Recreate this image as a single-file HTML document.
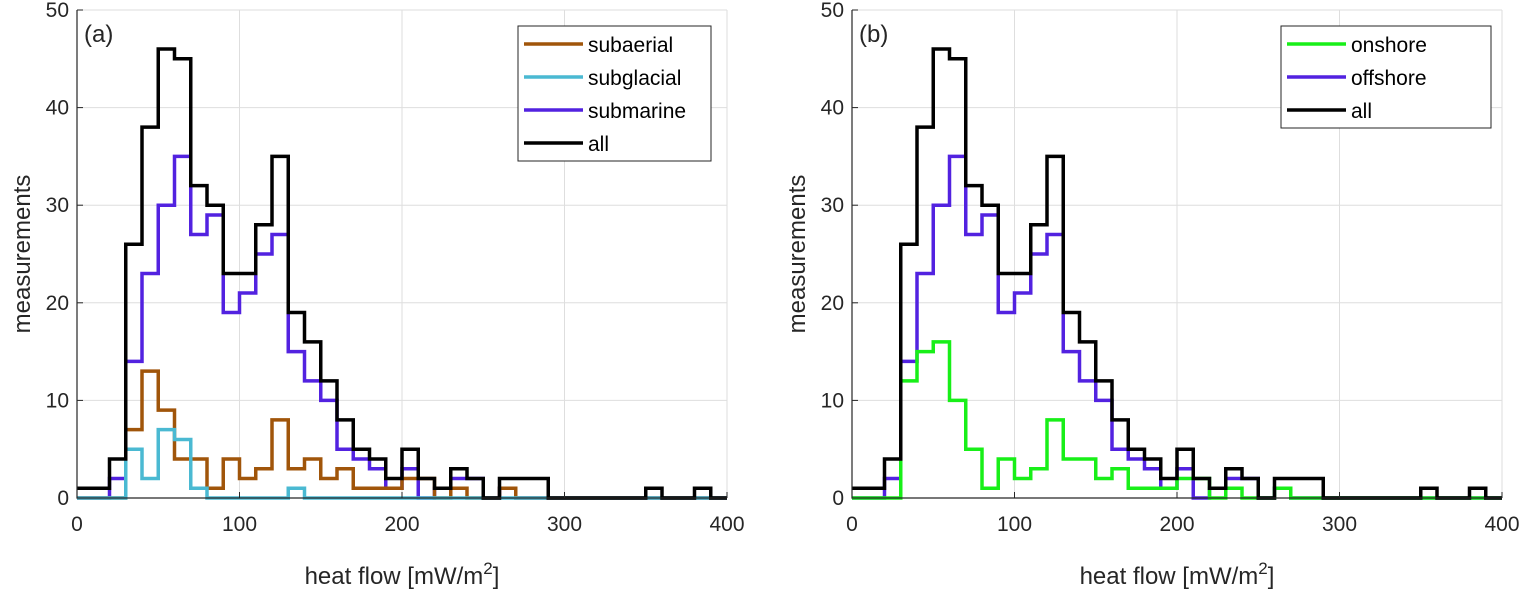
<!DOCTYPE html>
<html><head><meta charset="utf-8"><style>
html,body{margin:0;padding:0;background:#fff;}
svg{display:block;font-family:"Liberation Sans",sans-serif;}
</style></head><body>
<svg id="chart" width="1530" height="593" viewBox="0 0 1530 593" xmlns="http://www.w3.org/2000/svg"></svg>
<script>
const binEdges = [0,10,20,30,40,50,60,70,80,90,100,110,120,130,140,150,160,170,180,190,200,210,220,230,240,250,260,270,280,290,300,310,320,330,340,350,360,370,380,390];
const allCounts =       [1,1,4,26,38,46,45,32,30,23,23,28,35,19,16,12,8,5,4,2,5,2,1,3,2,0,2,2,2,0,0,0,0,0,0,1,0,0,1,0];
const submarineCounts = [0,0,2,14,23,30,35,27,29,19,21,25,27,15,12,10,5,4,3,1,3,0,1,2,2,0,1,0,0,0,0,0,0,0,0,0,0,0,0,0];
const subaerialCounts = [0,0,0,7,13,9,4,4,1,4,2,3,8,3,4,2,3,1,1,1,2,2,0,1,0,0,1,0,0,0,0,0,0,0,0,0,0,0,0,0];
const subglacialCounts= [0,0,0,5,2,7,6,1,0,0,0,0,0,1,0,0,0,0,0,0,0,0,0,0,0,0,0,0,0,0,0,0,0,0,0,0,0,0,0,0];
const onshoreCounts =   [0,0,0,12,15,16,10,5,1,4,2,3,8,4,4,2,3,1,1,1,2,2,0,1,0,0,1,0,0,0,0,0,0,0,0,0,0,0,0,0];
const offshoreCounts = submarineCounts;
const xTicks = [0,100,200,300,400];
const yTicks = [0,10,20,30,40,50];
const binWidth = 10;

const NS="http://www.w3.org/2000/svg";
const svg=document.getElementById('chart');
function mk(tag,attrs,parent){const e=document.createElementNS(NS,tag);for(const k in attrs)e.setAttribute(k,attrs[k]);(parent||svg).appendChild(e);return e;}

function panel(x0,label,series,legend,lx,ly,lw,lh){
  const x1=x0+650, yTop=10, yBot=498;
  const sx=v=>x0+(v/400)*(x1-x0);
  const sy=v=>yBot-(v/50)*(yBot-yTop);
  const g=mk('g',{});
  
  
  xTicks.forEach(t=>{const l=mk('line',{x1:sx(t),x2:sx(t),y1:yTop,y2:yBot,stroke:'#dedede','stroke-width':1},g);
    });
  yTicks.forEach(t=>{const l=mk('line',{x1:x0,x2:x1,y1:sy(t),y2:sy(t),stroke:'#dedede','stroke-width':1},g);
    });
  series.forEach(s=>{
    let d='';
    s.vals.forEach((v,i)=>{const xa=sx(binEdges[i]),xb=sx(binEdges[i]+binWidth),y=sy(v);
      d+=(i===0?'M':'L')+xa+','+y+' L'+xb+','+y+' ';});
    const p=mk('path',{d:d,fill:'none',stroke:s.color,'stroke-width':3.5,'stroke-linejoin':'miter'},g);
    
    
  });
  const ax=mk('path',{d:`M${x0},${yTop} L${x0},${yBot} L${x1},${yBot}`,fill:'none',stroke:'#262626','stroke-width':1.2},g);
  
  xTicks.forEach(t=>{mk('line',{x1:sx(t),x2:sx(t),y1:yBot,y2:yBot-6,stroke:'#262626'},g);
    const tx=mk('text',{x:sx(t),y:531,'text-anchor':'middle','font-size':21,fill:'#262626'},g);tx.textContent=t;
    });
  yTicks.forEach(t=>{mk('line',{x1:x0,x2:x0+6,y1:sy(t),y2:sy(t),stroke:'#262626'},g);
    const tx=mk('text',{x:x0-8,y:sy(t)+7,'text-anchor':'end','font-size':21,fill:'#262626'},g);tx.textContent=t;
    });
  const xt=mk('text',{x:(x0+x1)/2,y:584,'text-anchor':'middle','font-size':24,fill:'#262626'},g);
  xt.innerHTML='heat flow [mW/m<tspan dy="-10" font-size="17">2</tspan><tspan dy="10">]</tspan>';
  
  const yt=mk('text',{x:0,y:0,'text-anchor':'middle','font-size':24,fill:'#262626',transform:`translate(${x0-47},254) rotate(-90)`},g);
  yt.textContent='measurements';
  
  const pl=mk('text',{x:x0+7,y:42,'font-size':24,fill:'#262626'},g);pl.textContent='('+label+')';
  
  const lg=mk('g',{},g);
  
  mk('rect',{x:lx,y:ly,width:lw,height:lh,fill:'#fff',stroke:'#262626','stroke-width':1},lg);
  legend.forEach((s,i)=>{const yy=ly+18+i*33;
    const e=mk('g',{},lg);
    
    mk('line',{x1:lx+6,x2:lx+65,y1:yy,y2:yy,stroke:s.color,'stroke-width':3.5},e);
    const t=mk('text',{x:lx+70,y:yy+8,'font-size':21,fill:'#000'},e);t.textContent=s.name;});
}
const C={subaerial:'#a0550a',subglacial:'#4ab9d2',submarine:'#5222e0',all:'#000',onshore:'#18ef18',offshore:'#5222e0'};
panel(77,'a',[
  {name:'submarine',vals:submarineCounts,color:C.submarine},
  {name:'subaerial',vals:subaerialCounts,color:C.subaerial},
  {name:'subglacial',vals:subglacialCounts,color:C.subglacial},
  {name:'all',vals:allCounts,color:C.all}],
  [{name:'subaerial',color:C.subaerial},{name:'subglacial',color:C.subglacial},{name:'submarine',color:C.submarine},{name:'all',color:C.all}],
  518,26,193,135);
panel(852,'b',[
  {name:'offshore',vals:offshoreCounts,color:C.offshore},
  {name:'onshore',vals:onshoreCounts,color:C.onshore},
  {name:'all',vals:allCounts,color:C.all}],
  [{name:'onshore',color:C.onshore},{name:'offshore',color:C.offshore},{name:'all',color:C.all}],
  1281,26,210,102);
</script>
</body></html>
